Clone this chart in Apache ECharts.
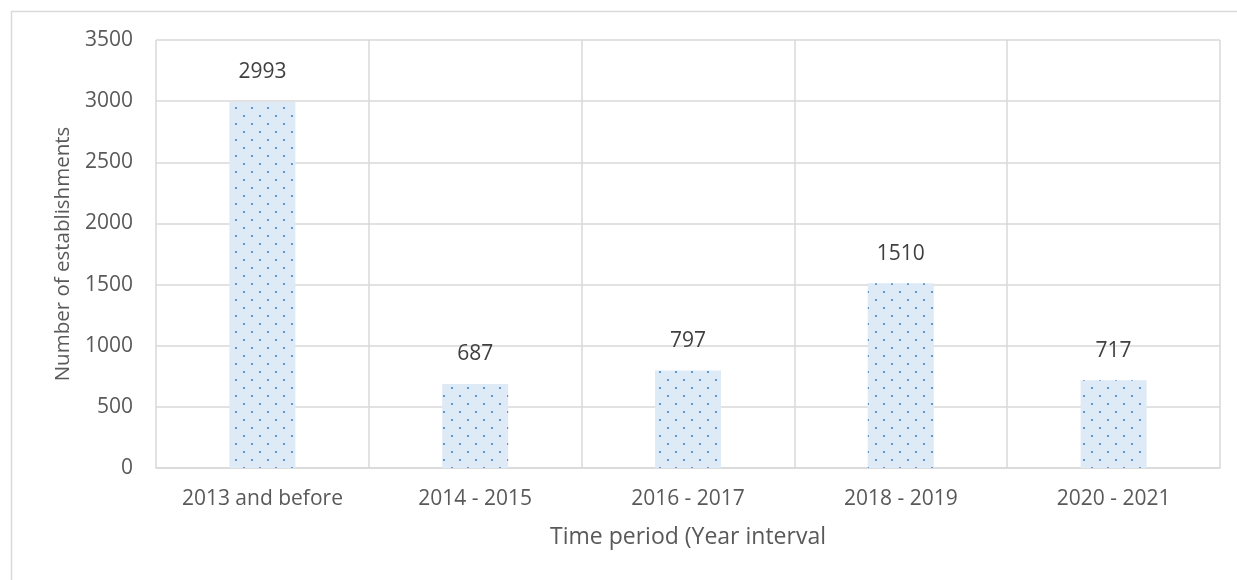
<!DOCTYPE html>
<html>
<head>
<meta charset="utf-8">
<script src="https://cdn.jsdelivr.net/npm/echarts@6/dist/echarts.min.js"></script>
<style>
  html, body { margin: 0; padding: 0; background: #fff; }
  #chart { width: 1237px; height: 580px; }
</style>
</head>
<body>
<div id="chart"></div>
<script>
  // data
  var categories = ['2013 and before', '2014 - 2015', '2016 - 2017', '2018 - 2019', '2020 - 2021'];
  var counts = [2993, 687, 797, 1510, 717];
  var yTicks = [0, 500, 1000, 1500, 2000, 2500, 3000, 3500];

  var font = '"Open Sans", sans-serif';

  // dotted fill like the office "5%" pattern
  function dotPattern() {
    var c = document.createElement('canvas');
    c.width = 16; c.height = 16;
    var ctx = c.getContext('2d');
    ctx.fillStyle = '#deeaf6';
    ctx.fillRect(0, 0, 16, 16);
    ctx.fillStyle = '#5b9bd5';
    ctx.fillRect(3, 3, 2, 2);
    ctx.fillRect(11, 11, 2, 2);
    return c;
  }

  var myChart = echarts.init(document.getElementById('chart'));
  var option = {
    animation: false,
    textStyle: { fontFamily: font },
    graphic: [{
      type: 'rect',
      shape: { x: 11.5, y: 11.5, width: 1300, height: 700 },
      style: { fill: 'none', stroke: '#d9d9d9', lineWidth: 1.5 },
      silent: true
    }],
    grid: { left: 156, top: 40, width: 1064, height: 428, containLabel: false },
    xAxis: {
      type: 'category',
      data: categories,
      name: 'Time period (Year interval',
      nameLocation: 'middle',
      nameGap: 58,
      nameTextStyle: { color: '#595959', fontSize: 23, fontFamily: font },
      axisLine: { show: true, lineStyle: { color: '#d9d9d9', width: 1.5 } },
      axisTick: { show: false },
      axisLabel: { color: '#595959', fontSize: 21, margin: 21, fontFamily: font },
      splitLine: { show: true, lineStyle: { color: '#d9d9d9', width: 1.5 } }
    },
    yAxis: {
      type: 'value',
      min: yTicks[0],
      max: yTicks[yTicks.length - 1],
      interval: 500,
      name: 'Number of establishments',
      nameLocation: 'middle',
      nameGap: 80,
      nameTextStyle: { color: '#595959', fontSize: 20.5, fontFamily: font },
      axisLine: { show: false },
      axisTick: { show: false },
      axisLabel: { color: '#595959', fontSize: 21, margin: 23, fontFamily: font, formatter: function (v) { return String(v); } },
      splitLine: { lineStyle: { color: '#d9d9d9', width: 1.5 } }
    },
    series: [{
      type: 'bar',
      data: counts,
      barWidth: 66,
      itemStyle: { color: { image: dotPattern(), repeat: 'repeat' } },
      label: {
        show: true,
        position: 'top',
        distance: 19,
        color: '#404040',
        fontSize: 21,
        fontFamily: font
      }
    }]
  };
  myChart.setOption(option);
</script>
</body>
</html>
